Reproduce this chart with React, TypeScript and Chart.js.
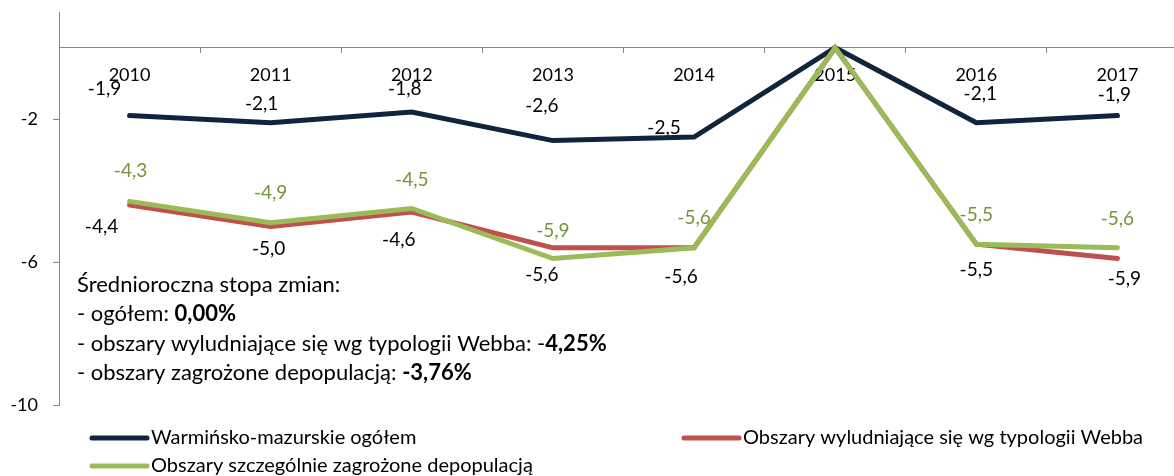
import React, { useEffect, useRef } from "react";
import { Chart, registerables } from "chart.js";

Chart.register(...registerables);

// ---- data ----
const years = ["2010", "2011", "2012", "2013", "2014", "2015", "2016", "2017"];
const regionTotal = [-1.9, -2.1, -1.8, -2.6, -2.5, 0, -2.1, -1.9];
const webbAreas = [-4.4, -5.0, -4.6, -5.6, -5.6, 0, -5.5, -5.9];
const depopAreas = [-4.3, -4.9, -4.5, -5.9, -5.6, 0, -5.5, -5.6];
const seriesNames = [
  "Warmińsko-mazurskie ogółem",
  "Obszary wyludniające się wg typologii Webba",
  "Obszary szczególnie zagrożone depopulacją",
];
const yTicks = [-10, -6, -2];
const noteTitle = "Średnioroczna stopa zmian:";
const noteLines: [string, string][] = [
  ["- ogółem: ", "0,00%"],
  ["- obszary wyludniające się wg typologii Webba: -", "4,25%"],
  ["- obszary zagrożone depopulacją: ", "-3,76%"],
];

// ---- styles ----
const FONT = "Lato, 'Open Sans', sans-serif";
const FS = 18;
const LABEL_FS = 19;
const NOTE_FS = 22;
const LEGEND_FS = 20;
const colors = ["#10243E", "#C0504D", "#9BBB59"];
const labelColors = ["#000000", "#000000", "#77933C"];
const axisColor = "#868686";

// label offsets (dx, dy) relative to the point, null = no label
const labelOffsets: ([number, number] | null)[][] = [
  [[-25, -27], [-9, -19], [-7, -23], [-11, -35], [-30, -9], null, [4, -29], [-3, -21]],
  [[-28, 22], [-2, 23], [-13, 28], [-11, 27], [-13, 29], null, [0, 26], [7, 20]],
  [[1, -30], [0, -30], [0, -29], [0, -28], [0, -30], null, [0, -29], [0, -29]],
];

const fmt = (v: number) => v.toFixed(1).replace(".", ",");

const decorPlugin = {
  id: "decor",
  afterDatasetsDraw(chart: any) {
    const ctx = chart.ctx;
    ctx.save();
    ctx.font = `${LABEL_FS}px ${FONT}`;
    ctx.textAlign = "center";
    ctx.textBaseline = "middle";
    chart.data.datasets.forEach((ds: any, di: number) => {
      const meta = chart.getDatasetMeta(di);
      meta.data.forEach((el: any, i: number) => {
        const off = labelOffsets[di][i];
        if (!off) return;
        ctx.fillStyle = labelColors[di];
        ctx.fillText(fmt(ds.data[i]), el.x + off[0], el.y + off[1]);
      });
    });
    ctx.restore();
  },
  afterDraw(chart: any) {
    const ctx = chart.ctx;
    ctx.save();
    // annotation
    ctx.textBaseline = "middle";
    ctx.textAlign = "left";
    ctx.fillStyle = "#000";
    const nx = 77;
    const ny = [285, 314, 344, 373];
    ctx.font = `${NOTE_FS}px ${FONT}`;
    ctx.fillText(noteTitle, nx, ny[0]);
    noteLines.forEach((ln, i) => {
      ctx.font = `${NOTE_FS}px ${FONT}`;
      ctx.fillText(ln[0], nx, ny[i + 1]);
      const w = ctx.measureText(ln[0]).width;
      ctx.font = `bold ${NOTE_FS}px ${FONT}`;
      ctx.fillText(ln[1], nx + w, ny[i + 1]);
    });
    // legend
    const items = [
      { x: 92, y: 438, i: 0 },
      { x: 684, y: 438, i: 1 },
      { x: 92, y: 466, i: 2 },
    ];
    ctx.font = `${LEGEND_FS}px ${FONT}`;
    items.forEach((it) => {
      ctx.strokeStyle = colors[it.i];
      ctx.lineWidth = 5;
      ctx.lineCap = "round";
      ctx.beginPath();
      ctx.moveTo(it.x, it.y);
      ctx.lineTo(it.x + 55, it.y);
      ctx.stroke();
      ctx.fillStyle = "#000";
      ctx.fillText(seriesNames[it.i], it.x + 59, it.y);
    });
    ctx.restore();
  },
};

export default function App() {
  const ref = useRef<HTMLCanvasElement | null>(null);
  useEffect(() => {
    if (!ref.current) return;
    const series = [regionTotal, webbAreas, depopAreas];
    const chart = new Chart(ref.current, {
      type: "line",
      data: {
        labels: years,
        datasets: series.map((d, i) => ({
          label: seriesNames[i],
          data: d,
          borderColor: colors[i],
          backgroundColor: colors[i],
          borderWidth: 5,
          pointRadius: 0,
          tension: 0,
          borderCapStyle: "round" as const,
          borderJoinStyle: "miter" as const,
          order: 3 - i,
        })),
      },
      options: {
        animation: false,
        responsive: true,
        maintainAspectRatio: false,
        layout: { padding: { top: 12, bottom: 71, left: 0, right: 12 } },
        plugins: { legend: { display: false }, tooltip: { enabled: false } },
        scales: {
          x: {
            type: "category",
            position: { y: 0 } as any,
            offset: true,
            grid: {
              offset: true,
              drawOnChartArea: false,
              drawTicks: true,
              tickLength: 5,
              color: axisColor,
            },
            border: { color: axisColor, width: 1 },
            ticks: {
              color: "#000",
              font: { family: FONT, size: FS },
              padding: 12,
              maxRotation: 0,
            },
          },
          y: {
            type: "linear",
            min: -10,
            max: 1,
            afterBuildTicks: (scale: any) => {
              scale.ticks = yTicks.map((v) => ({ value: v }));
            },
            afterFit: (scale: any) => {
              scale.width = 59;
              scale.paddingTop = 0;
              scale.paddingBottom = 0;
            },
            grid: {
              drawOnChartArea: false,
              drawTicks: true,
              tickLength: 6,
              color: axisColor,
            },
            border: { color: axisColor, width: 1 },
            ticks: {
              color: "#000",
              font: { family: FONT, size: FS },
              padding: 15,
              callback: (v: any) => String(v),
            },
          },
        },
      },
      plugins: [decorPlugin],
    });
    return () => chart.destroy();
  }, []);
  return (
    <div
      style={{
        position: "absolute",
        left: 0,
        top: 0,
        width: 1174,
        height: 476,
        overflow: "hidden",
        background: "#fff",
      }}
    >
      <div style={{ position: "relative", width: 1200, height: 476 }}>
        <canvas ref={ref} />
      </div>
    </div>
  );
}
